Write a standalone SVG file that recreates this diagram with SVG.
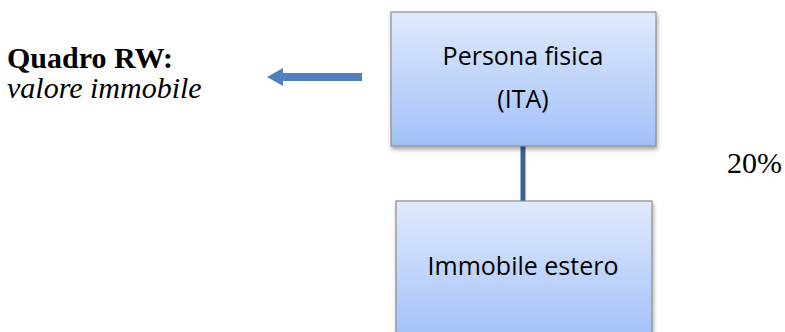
<svg xmlns="http://www.w3.org/2000/svg" width="785" height="332" viewBox="0 0 785 332">
<defs>
<linearGradient id="g" x1="0" y1="0" x2="0" y2="1">
<stop offset="0" stop-color="#e0eafd"/>
<stop offset="1" stop-color="#a2c0f8"/>
</linearGradient>
<filter id="sh" x="-10%" y="-10%" width="120%" height="130%">
<feGaussianBlur in="SourceAlpha" stdDeviation="2"/>
<feOffset dx="1" dy="3"/>
<feComponentTransfer><feFuncA type="linear" slope="0.35"/></feComponentTransfer>
<feMerge><feMergeNode/><feMergeNode in="SourceGraphic"/></feMerge>
</filter>
<style>
.box{fill:url(#g);stroke:#8c8c8c;stroke-width:1.2;filter:url(#sh)}
.lbl{font-family:"Open Sans","Noto Sans",sans-serif;font-size:25px;fill:#000;text-anchor:middle}
.tnr{font-family:"Liberation Serif",serif;font-size:30px;fill:#000}
</style>
</defs>
<rect width="785" height="332" fill="#fff"/>
<g id="connectors">
<line x1="523" y1="146" x2="523" y2="201" stroke="#3b6497" stroke-width="5"/>
<polygon points="267,77 283,68 283,73 362,73 362,81 283,81 283,86" fill="#4f81bd"/>
</g>
<g id="node-persona">
<rect class="box" x="391" y="12" width="265" height="134"/>
<text class="lbl" x="523" y="65">Persona fisica</text>
<text class="lbl" x="523" y="108">(ITA)</text>
</g>
<g id="node-immobile">
<rect class="box" x="396" y="201" width="256" height="140"/>
<text class="lbl" x="523" y="275">Immobile estero</text>
</g>
<g id="label-rw">
<text class="tnr" x="7" y="68" font-weight="bold">Quadro RW:</text>
<text class="tnr" x="7" y="98" font-style="italic">valore immobile</text>
</g>
<g id="label-pct">
<text class="tnr" x="727" y="173">20%</text>
</g>
</svg>
